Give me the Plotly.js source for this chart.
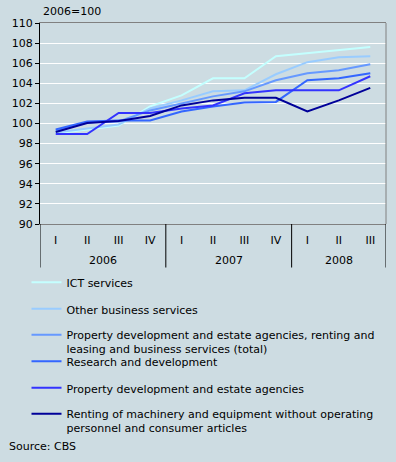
<!DOCTYPE html>
<html><head><meta charset="utf-8">
<script src="https://cdn.plot.ly/plotly-3.0.1.min.js"></script>
<style>html,body{margin:0;padding:0;background:#cddce2;overflow:hidden;}</style>
</head><body><div id="chart" style="width:396px;height:462px;"></div>
<script>
const years = ['2006','2006','2006','2006','2007','2007','2007','2007','2008','2008','2008'];
const quarters = ['I','II','III','IV','I','II','III','IV','I','II','III'];

const seriesNames = [
  'ICT services',
  'Other business services',
  'Property development and estate agencies, renting and<br>leasing and business services (total)',
  'Research and development',
  'Property development and estate agencies',
  'Renting of machinery and equipment without operating<br>personnel and consumer articles'
];
const ictServices      = [99.0, 99.4, 99.8, 101.7, 102.8, 104.5, 104.5, 106.7, 107.0, 107.3, 107.6];
const otherBusiness    = [99.1, 99.5, 99.9, 101.5, 102.3, 103.2, 103.3, 104.9, 106.1, 106.6, 106.7];
const totalServices    = [99.3, 100.1, 100.2, 101.3, 102.0, 102.7, 103.2, 104.3, 105.0, 105.3, 105.9];
const researchDev      = [99.4, 100.2, 100.3, 100.3, 101.2, 101.7, 102.1, 102.15, 104.3, 104.5, 105.0];
const propertyDev      = [98.95, 98.95, 101.05, 101.05, 101.5, 101.8, 103.0, 103.3, 103.3, 103.3, 104.7];
const rentingMachinery = [99.15, 100.05, 100.25, 100.75, 101.8, 102.3, 102.55, 102.55, 101.2, 102.3, 103.55];
const seriesValues = [ictServices, otherBusiness, totalServices, researchDev, propertyDev, rentingMachinery];
const seriesColors = ['#c4ffff', '#99ccff', '#6699ff', '#3366ff', '#3333ff', '#000099'];

const yTickVals = [90, 92, 94, 96, 98, 100, 102, 104, 106, 108, 110];

const font = {family: 'DejaVu Sans, Verdana, sans-serif', size: 11, color: '#000'};
const legendTopsPx = [268.5, 295, 321, 347.5, 374, 400];
const plotTop = 23, plotBottom = 224;
const paperY = py => (plotBottom - py) / (plotBottom - plotTop);

// category keys built from the data
const cats = years.map((y, i) => y + ' ' + quarters[i]);

const traces = seriesValues.map((vals, i) => ({
  type: 'scatter', mode: 'lines',
  x: cats, y: vals,
  name: seriesNames[i],
  line: {color: seriesColors[i], width: 2},
  legend: i === 0 ? 'legend' : 'legend' + (i + 1),
  hoverinfo: 'skip'
}));

// year groups derived from data
const groups = [];
years.forEach((y, i) => {
  const g = groups[groups.length - 1];
  if (g && g.year === y) g.end = i; else groups.push({year: y, start: i, end: i});
});

const dividerShapes = [];
const bounds = [-0.5].concat(groups.map(g => g.end + 0.5));
bounds.forEach(b => dividerShapes.push({
  type: 'line', xref: 'x', yref: 'paper', x0: b, x1: b, y0: 0, y1: paperY(267.5),
  line: {color: '#000', width: 1}
}));

const yearAnnotations = groups.map(g => ({
  text: g.year, xref: 'x', yref: 'paper', x: (g.start + g.end) / 2, y: paperY(260),
  xanchor: 'center', yanchor: 'middle', showarrow: false, font: font
}));

const layout = {
  width: 396, height: 462,
  margin: {l: 40, r: 10, t: plotTop, b: 462 - plotBottom, pad: 0},
  paper_bgcolor: '#cddce2', plot_bgcolor: '#cddce2',
  font: font,
  showlegend: true,
  xaxis: {
    type: 'category', categoryorder: 'array', categoryarray: cats,
    range: [-0.5, cats.length - 0.5], autorange: false,
    tickvals: cats, ticktext: quarters,
    showline: true, linecolor: '#808080', linewidth: 1, mirror: true,
    showgrid: false, ticks: '', tickfont: font, ticklabelstandoff: 6,
    fixedrange: true
  },
  yaxis: {
    range: [90, 110], tickvals: yTickVals, ticktext: yTickVals.map(String),
    showline: true, linecolor: '#000', linewidth: 1,
    ticks: 'outside', ticklen: 4, tickcolor: '#000',
    showgrid: true, gridcolor: '#ffffff', gridwidth: 1,
    zeroline: false, tickfont: font, fixedrange: true
  },
  shapes: [
    {type: 'line', xref: 'paper', yref: 'y', x0: 0, x1: 1, y0: 100, y1: 100,
     line: {color: '#000', width: 1}, layer: 'below'},
    {type: 'line', xref: 'paper', yref: 'paper', x0: 1, x1: 1, y0: 0, y1: 1,
     line: {color: '#808080', width: 1}}
  ].concat(dividerShapes),
  annotations: [
    {text: '2006=100', xref: 'paper', yref: 'paper', x: 0.003, y: paperY(12),
     xanchor: 'left', yanchor: 'middle', showarrow: false, font: font},
    {text: 'Source: CBS', xref: 'paper', yref: 'paper', x: (7 - 40) / 346, y: paperY(446.5),
     xanchor: 'left', yanchor: 'middle', showarrow: false, font: font}
  ].concat(yearAnnotations)
};

legendTopsPx.forEach((top, i) => {
  const key = i === 0 ? 'legend' : 'legend' + (i + 1);
  layout[key] = {
    x: (26.5 - 40) / 346, xanchor: 'left',
    y: paperY(top), yanchor: 'top',
    bgcolor: 'rgba(0,0,0,0)', borderwidth: 0,
    font: font, valign: 'top', orientation: 'v'
  };
});

Plotly.newPlot('chart', traces, layout, {displayModeBar: false, staticPlot: true});
</script>
</body></html>
